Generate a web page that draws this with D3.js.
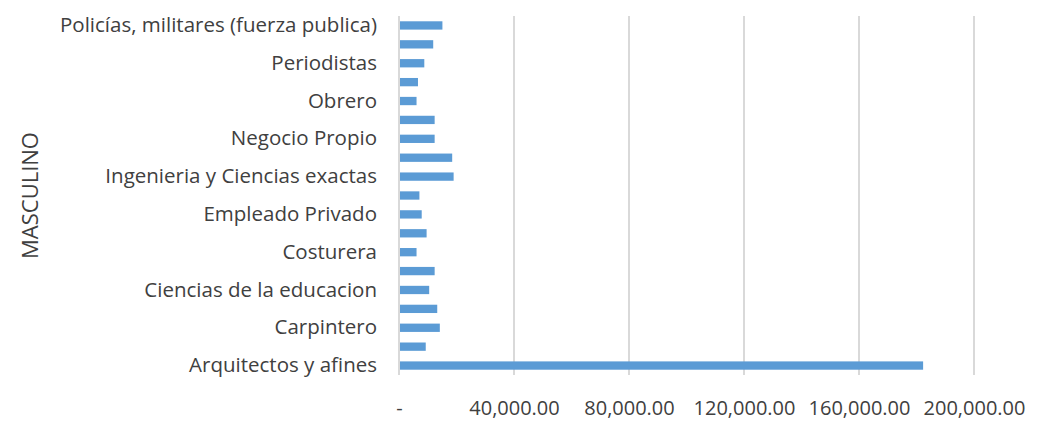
<!DOCTYPE html>
<html>
<head>
<meta charset="utf-8">
<script src="https://cdn.jsdelivr.net/npm/d3@7"></script>
<style>
  body { margin: 0; background: #fff; }
  text { font-family: "Open Sans", sans-serif; fill: #404040; }
</style>
</head>
<body>
<div id="chart"></div>
<script>
// categories bottom to top, as drawn
const categories = [
  'Arquitectos y afines', 'Artesano', 'Carpintero', 'Chofer',
  'Ciencias de la educacion', 'Comerciante', 'Costurera', 'Docente',
  'Empleado Privado', 'Empleado Publico', 'Ingenieria y Ciencias exactas', 'Jubilado',
  'Negocio Propio', 'No trabaja', 'Obrero', 'Otros',
  'Periodistas', 'Pintor', 'Policías, militares (fuerza publica)'
]
const values = [
  182300, 9300, 14200, 13300,
  10500, 12400, 6100, 9600,
  7900, 7100, 19000, 18500,
  12400, 12400, 6100, 6600,
  8800, 11900, 15100
]
const xTicks = [0, 40000, 80000, 120000, 160000, 200000]
const axisTitle = 'MASCULINO'

const W = 1041
const H = 422
const margin = { top: 16, right: 67, bottom: 47, left: 399 }
const width = W - margin.left - margin.right
const height = H - margin.top - margin.bottom

const data = categories.map((c, i) => ({ name: c, value: values[i] }))

const xScale = d3.scaleLinear().domain([0, 200000]).range([0, width])
const yScale = d3.scaleBand().domain(categories.slice().reverse()).range([0, height]).paddingInner(0.56).paddingOuter(0.28)

const numFormat = d3.format(',.2f')
const xAxis = d3.axisBottom(xScale).tickValues(xTicks).tickSize(0).tickPadding(26)
  .tickFormat((d) => d === 0 ? '-' : numFormat(d))
const yAxis = d3.axisLeft(yScale).tickSize(0).tickPadding(22)
  .tickFormat((d) => categories.indexOf(d) % 2 === 0 ? d : '')

const svg = d3.select('#chart')
  .append('svg')
  .attr('width', W)
  .attr('height', H)

const g = svg.append('g')
  .attr('transform', `translate(${margin.left}, ${margin.top})`)

// gridlines
g.selectAll('line.grid')
  .data(xTicks)
  .enter()
  .append('line')
  .attr('class', 'grid')
  .attr('x1', (d) => xScale(d))
  .attr('x2', (d) => xScale(d))
  .attr('y1', 0)
  .attr('y2', height)
  .style('stroke', '#d9d9d9')
  .style('stroke-width', 2)

g.selectAll('rect')
  .data(data)
  .enter()
  .append('rect')
  .attr('x', xScale(0) + 1)
  .attr('y', (d) => yScale(d.name))
  .attr('width', (d) => xScale(d.value) - xScale(0) - 1)
  .attr('height', yScale.bandwidth())
  .style('fill', '#5b9bd5')

const xg = g.append('g')
  .attr('transform', `translate(0, ${height})`)
  .call(xAxis)
xg.select('.domain').remove()
xg.selectAll('text').style('font-size', '20px').style('font-family', '"Open Sans", sans-serif').style('fill', '#404040')

const yg = g.append('g')
  .call(yAxis)
yg.select('.domain').remove()
yg.selectAll('text').style('font-size', '20.5px').style('font-family', '"Open Sans", sans-serif').style('fill', '#404040')

svg.append('text')
  .attr('transform', `translate(38, ${margin.top + height / 2}) rotate(-90)`)
  .attr('text-anchor', 'middle')
  .style('font-size', '22px')
  .text(axisTitle)
</script>
</body>
</html>
